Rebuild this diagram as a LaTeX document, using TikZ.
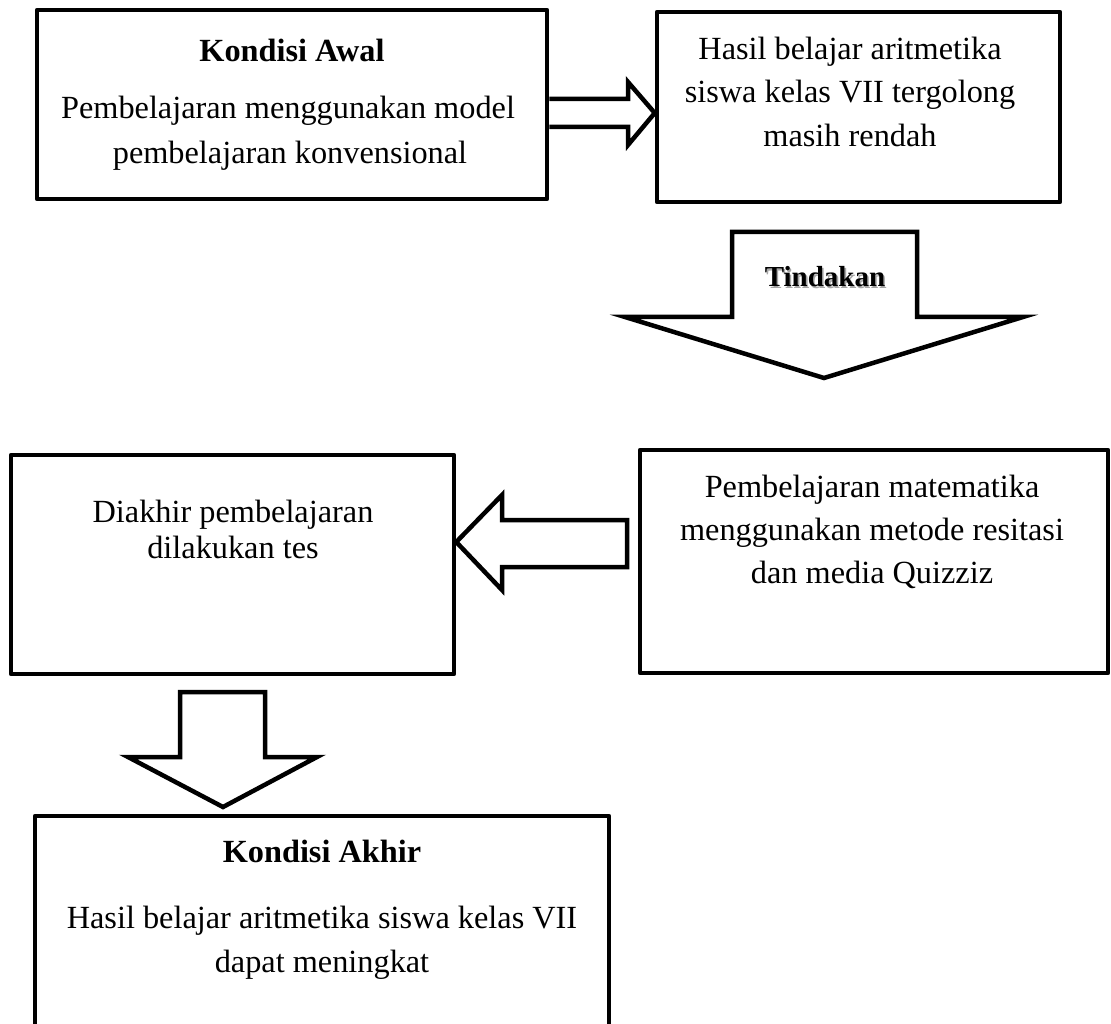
\documentclass[tikz,border=0pt]{standalone}
\usepackage{fontspec}
\setmainfont{Liberation Serif}
\begin{document}
\begin{tikzpicture}[x=1pt,y=-1pt]
\tikzset{
  box/.style={draw=black, line width=4.5pt, line join=round, fill=white, inner sep=0pt},
  blk/.style={draw=black, line width=4.5pt, line join=miter, fill=white},
  txt/.style={anchor=base, inner sep=0pt, font=\fontsize{32.3pt}{40pt}\selectfont},
  btxt/.style={txt, font=\fontsize{32.3pt}{40pt}\selectfont\bfseries}
}
\fill[white] (0,0) rectangle (1111,1024);
\useasboundingbox (0,0) rectangle (1111,1024);

% boxes
\node[box, minimum width=510pt, minimum height=189pt] (b1) at (292,104.5) {};
\node[box, minimum width=403pt, minimum height=190pt] (b2) at (858.5,107) {};
\node[box, minimum width=443pt, minimum height=219pt] (b3) at (232.5,564.5) {};
\node[box, minimum width=468pt, minimum height=223pt] (b4) at (874,561.5) {};
\node[box, minimum width=574pt, minimum height=224pt] (b5) at (322,928) {};

% block arrows
\draw[blk] (b1.east |- 0,99) -- (628,99) -- (628,82) -- (b2.west |- 0,113) -- (628,145) -- (628,127) -- (b1.east |- 0,127);
\draw[blk] (732,232) -- (917,232) -- (917,317) -- (1023,317) -- (824,378) -- (625,317) -- (732,317) -- cycle;
\draw[blk] (627,520) -- (502,520) -- (502,495) -- (b3.east |- 0,542) -- (502,590) -- (502,567) -- (627,567) -- cycle;
\draw[blk] (180,692) -- (265,692) -- (265,757) -- (317,757) -- (223,807) -- (128,757) -- (180,757) -- cycle;

% texts box 1
\node[btxt] (t1a) at (292,62) {Kondisi Awal};
\node[txt] (t1b) at (288,119) {Pembelajaran menggunakan model};
\node[txt] (t1c) at (290,164) {pembelajaran konvensional};
% box 2
\node[txt] (t2a) at (850,60) {Hasil belajar aritmetika};
\node[txt] (t2b) at (850,103) {siswa kelas VII tergolong};
\node[txt] (t2c) at (850,147) {masih rendah};
% tindakan
\node[anchor=base, inner sep=0pt, font=\fontsize{29pt}{36pt}\selectfont\bfseries] (tt) at (825,287)
  {\makebox[0pt][l]{\raisebox{-1.6pt}{\hspace{1.6pt}\color{black!35}Tindakan}}Tindakan};
% box 3
\node[txt] (t3a) at (233,522) {Diakhir pembelajaran};
\node[txt] (t3b) at (233,558) {dilakukan tes};
% box 4
\node[txt] (t4a) at (872,497) {Pembelajaran matematika};
\node[txt] (t4b) at (872,540) {menggunakan metode resitasi};
\node[txt] (t4c) at (872,583) {dan media Quizziz};
% box 5
\node[btxt] (t5a) at (322,862) {Kondisi Akhir};
\node[txt] (t5b) at (322,928) {Hasil belajar aritmetika siswa kelas VII};
\node[txt] (t5c) at (322,972) {dapat meningkat};
\end{tikzpicture}
\end{document}
